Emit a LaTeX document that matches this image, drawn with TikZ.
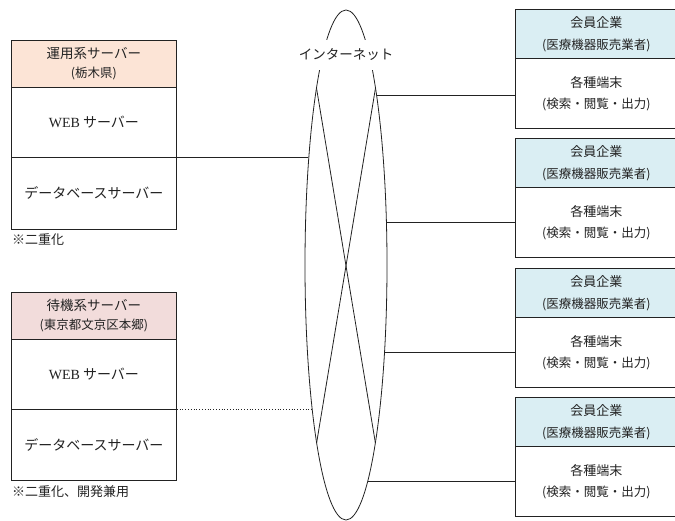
\documentclass[tikz,border=0pt]{standalone}
\usepackage{fontspec}
\setmainfont{Noto Sans CJK JP}
\newfontfamily\serifweb{Liberation Serif}
\usetikzlibrary{positioning}
\definecolor{peach}{HTML}{FCE4D6}
\definecolor{pinkhd}{HTML}{F2DCDB}
\definecolor{bluehd}{HTML}{DAEEF3}
\definecolor{ink}{HTML}{222222}
\tikzset{
  cell/.style={draw=ink, line width=0.8pt, rectangle, anchor=north west, inner sep=0pt, align=center, text=ink},
  lhead/.style={cell, minimum width=165pt, minimum height=47pt, font=\fontsize{13.5}{19}\selectfont},
  lbody/.style={cell, minimum width=165pt, font=\fontsize{14}{17}\selectfont},
  rhead/.style={cell, fill=bluehd, minimum width=162pt, minimum height=49pt, font=\fontsize{13}{22}\selectfont},
  rbody/.style={cell, minimum width=162pt, minimum height=70pt, font=\fontsize{13}{21}\selectfont},
  note/.style={anchor=west, inner sep=0pt, text=ink, font=\fontsize{13}{15}\selectfont},
  link/.style={draw=ink, line width=0.8pt},
  dotlink/.style={draw=ink, line width=0.8pt, dotted}
}
\begin{document}
\begin{tikzpicture}[x=1pt,y=-1pt]
\clip (0,0) rectangle (675,521);
\fill[white] (0,0) rectangle (675,521);

% internet ellipse
\draw[link] (346,265) ellipse [x radius=41, y radius=255];
\coordinate (tl) at (316.5,88);
\coordinate (tr) at (375.5,88);
\coordinate (bl) at (316.6,443);
\coordinate (br) at (375.4,443);
\draw[link] (tl) -- (br);
\draw[link] (tr) -- (bl);
\node[fill=white, inner xsep=2pt, minimum height=30pt, text=ink, font=\fontsize{13.5}{16}\selectfont] (net) at (346,55) {インターネット};

% left server 1
\node[lhead, fill=peach] (s1h) at (11,40) {運用系サーバー\\{\fontsize{12.5}{14}\selectfont (栃木県)}};
\node[lbody, minimum height=70pt] (s1w) at (11,87) {{\serifweb WEB} サーバー};
\node[lbody, minimum height=72pt] (s1d) at (11,157) {データベースサーバー};
\node[note] (n1) at (12,240) {※二重化};

% left server 2
\node[lhead, fill=pinkhd] (s2h) at (11,292) {待機系サーバー\\{\fontsize{12.5}{14}\selectfont (東京都文京区本郷)}};
\node[lbody, minimum height=70pt] (s2w) at (11,339) {{\serifweb WEB} サーバー};
\node[lbody, minimum height=71pt] (s2d) at (11,409) {データベースサーバー};
\node[note] (n2) at (12,492) {※二重化、開発兼用};

% right member boxes
\foreach \i/\y in {1/9, 2/138, 3/268, 4/397} {
  \node[rhead] (m\i h) at (515,\y) {会員企業\\{\fontsize{12.5}{14}\selectfont (医療機器販売業者)}};
  \node[rbody] (m\i b) at (515,\y+49) {各種端末\\{\fontsize{12.5}{14}\selectfont (検索・閲覧・出力)}};
}

% connectors
\coordinate (e1) at (307.5,157);
\coordinate (e2) at (312.3,409);
\draw[link] (s1d.north east) -- (e1);
\draw[dotlink] (s2d.north east) -- (e2);

\coordinate (r1) at (377,95);
\coordinate (r2) at (386.4,222);
\coordinate (r3) at (384.5,352);
\coordinate (r4) at (367.8,481);
\draw[link] (r1) -- (r1 -| m1b.west);
\draw[link] (r2) -- (r2 -| m2b.west);
\draw[link] (r3) -- (r3 -| m3b.west);
\draw[link] (r4) -- (r4 -| m4b.west);
\end{tikzpicture}
\end{document}
